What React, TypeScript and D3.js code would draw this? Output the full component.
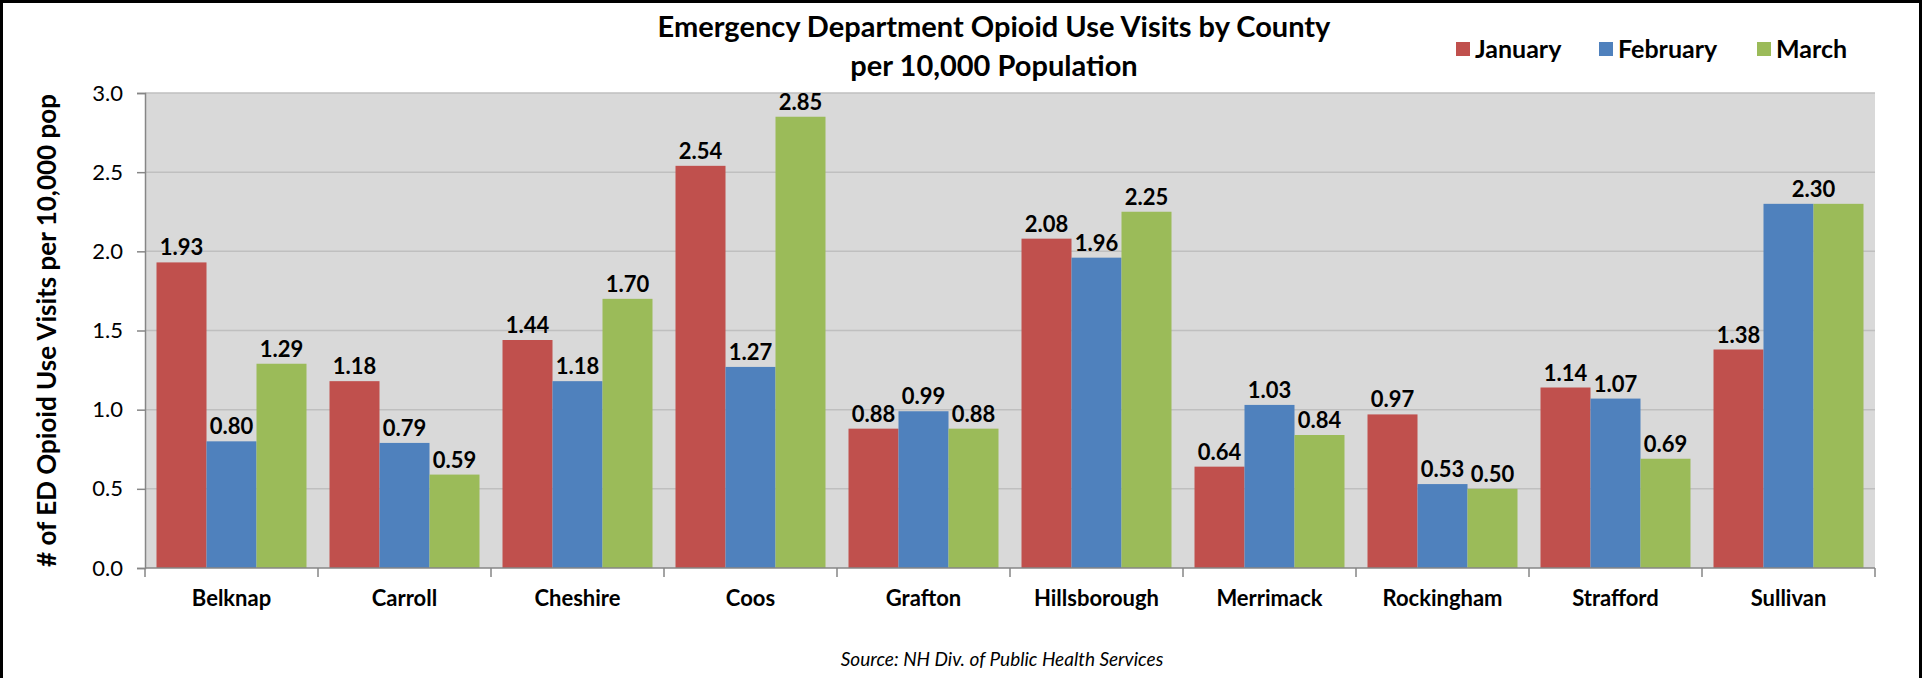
import React, { useRef, useEffect } from 'react';
import * as d3 from 'd3';

// Counties on the x axis
const counties = [
  'Belknap', 'Carroll', 'Cheshire', 'Coos', 'Grafton',
  'Hillsborough', 'Merrimack', 'Rockingham', 'Strafford', 'Sullivan'
];

const months = ['January', 'February', 'March'];

// ED opioid use visits per 10,000 population
const january = [1.93, 1.18, 1.44, 2.54, 0.88, 2.08, 0.64, 0.97, 1.14, 1.38];
const february = [0.80, 0.79, 1.18, 1.27, 0.99, 1.96, 1.03, 0.53, 1.07, 2.30];
const march = [1.29, 0.59, 1.70, 2.85, 0.88, 2.25, 0.84, 0.50, 0.69, 2.30];

const yTicks = [0, 0.5, 1.0, 1.5, 2.0, 2.5, 3.0];

const colors = ['#c0504d', '#4f81bd', '#9bbb59'];

const FONT = 'Lato, "Open Sans", sans-serif';

const App: React.FC = () => {
  const svgRef = useRef<SVGSVGElement>(null);
  const width = 1927;
  const height = 678;

  useEffect(() => {
    if (!svgRef.current) return;
    const svg = d3.select(svgRef.current);
    svg.selectAll('*').remove();

    const margin = { top: 93, right: 52, bottom: 110, left: 145 };
    const innerWidth = width - margin.left - margin.right;
    const innerHeight = height - margin.top - margin.bottom;

    const series = [january, february, march];

    // Frame
    svg.append('rect')
      .attr('x', 1.5)
      .attr('y', 1.5)
      .attr('width', width - 8)
      .attr('height', height + 20)
      .style('fill', 'white')
      .style('stroke', '#000')
      .style('stroke-width', 3);

    const x0 = d3.scaleBand()
      .domain(counties)
      .range([0, innerWidth])
      .paddingInner(0.133)
      .paddingOuter(0.0665);

    const x1 = d3.scaleBand()
      .domain(months)
      .range([0, x0.bandwidth()]);

    const y = d3.scaleLinear()
      .domain([0, 3])
      .range([innerHeight, 0]);

    const g = svg.append('g')
      .attr('transform', `translate(${margin.left},${margin.top})`);

    // Plot background
    g.append('rect')
      .attr('width', innerWidth)
      .attr('height', innerHeight)
      .style('fill', '#d9d9d9');

    // Grid lines
    g.append('g')
      .selectAll('line')
      .data(yTicks.filter(t => t > 0))
      .join('line')
      .attr('x1', 0)
      .attr('x2', innerWidth)
      .attr('y1', d => y(d))
      .attr('y2', d => y(d))
      .style('stroke', '#bfbfbf')
      .style('stroke-width', 1.5);

    // Bars
    const groups = g.append('g')
      .selectAll('g')
      .data(counties)
      .join('g')
      .attr('transform', d => `translate(${x0(d)},0)`);

    groups.selectAll('rect')
      .data(c => months.map((m, k) => ({ m, k, v: series[k][counties.indexOf(c)] })))
      .join('rect')
      .attr('x', d => x1(d.m)!)
      .attr('y', d => y(d.v))
      .attr('width', x1.bandwidth())
      .attr('height', d => innerHeight - y(d.v))
      .style('fill', d => colors[d.k]);

    // Data labels (adjacent equal values share one label centred over them)
    counties.forEach((c, i) => {
      const vals = series.map(s => s[i]);
      let k = 0;
      while (k < vals.length) {
        let j = k;
        while (j + 1 < vals.length && vals[j + 1] === vals[k]) j++;
        const cx = x0(c)! + (x1(months[k])! + x1(months[j])! + x1.bandwidth()) / 2;
        g.append('text')
          .attr('x', cx)
          .attr('y', y(vals[k]) - 7)
          .attr('text-anchor', 'middle')
          .style('font-family', FONT)
          .style('font-weight', 'bold')
          .style('font-size', '22px')
          .style('fill', '#000')
          .text(vals[k].toFixed(2));
        k = j + 1;
      }
    });

    // Y axis
    const yAxis = g.append('g')
      .call(d3.axisLeft(y).tickValues(yTicks).tickFormat(d3.format('.1f')).tickSize(8).tickPadding(14));
    yAxis.select('.domain').style('stroke', '#868686').style('stroke-width', 1.5);
    yAxis.selectAll('line').style('stroke', '#868686').style('stroke-width', 1.5);
    yAxis.selectAll('text')
      .style('font-family', FONT)
      .style('font-size', '22px')
      .style('fill', '#000');

    // X axis
    const xAxis = g.append('g')
      .attr('transform', `translate(0,${innerHeight})`);
    xAxis.append('line')
      .attr('x1', 0)
      .attr('x2', innerWidth)
      .style('stroke', '#868686')
      .style('stroke-width', 1.5);
    const bounds = counties.map(c => x0(c)! - x0.step() * x0.paddingInner() / 2).concat([innerWidth]);
    xAxis.selectAll('line.tick')
      .data(bounds)
      .join('line')
      .attr('class', 'tick')
      .attr('x1', d => d)
      .attr('x2', d => d)
      .attr('y1', 0)
      .attr('y2', 9)
      .style('stroke', '#868686')
      .style('stroke-width', 1.5);
    xAxis.selectAll('text')
      .data(counties)
      .join('text')
      .attr('x', d => x0(d)! + x0.bandwidth() / 2)
      .attr('y', 38)
      .attr('text-anchor', 'middle')
      .style('font-family', FONT)
      .style('font-weight', 'bold')
      .style('font-size', '22px')
      .style('fill', '#000')
      .text(d => d);

    // Y-axis label
    svg.append('text')
      .attr('transform', 'rotate(-90)')
      .attr('x', -(margin.top + innerHeight / 2))
      .attr('y', 56)
      .attr('text-anchor', 'middle')
      .style('font-family', FONT)
      .style('font-weight', 'bold')
      .style('font-size', '26px')
      .style('fill', '#000')
      .text('# of ED Opioid Use Visits per 10,000 pop');

    // Title
    const title = svg.append('text')
      .attr('text-anchor', 'middle')
      .style('font-family', FONT)
      .style('font-weight', 'bold')
      .style('font-size', '29px')
      .style('fill', '#000');
    title.append('tspan').attr('x', 994).attr('y', 37).text('Emergency Department Opioid Use Visits by County');
    title.append('tspan').attr('x', 994).attr('y', 76).text('per 10,000 Population');

    // Legend
    const legendX = [1456, 1599, 1757];
    const legend = svg.append('g');
    months.forEach((m, k) => {
      legend.append('rect')
        .attr('x', legendX[k])
        .attr('y', 42)
        .attr('width', 14)
        .attr('height', 14)
        .style('fill', colors[k]);
      legend.append('text')
        .attr('x', legendX[k] + 19)
        .attr('y', 58)
        .style('font-family', FONT)
        .style('font-weight', 'bold')
        .style('font-size', '25px')
        .style('fill', '#000')
        .text(m);
    });

    // Source
    svg.append('text')
      .attr('x', 1002)
      .attr('y', 666)
      .attr('text-anchor', 'middle')
      .style('font-family', FONT)
      .style('font-style', 'italic')
      .style('font-size', '19px')
      .style('fill', '#000')
      .text('Source: NH Div. of Public Health Services');
  }, []);

  return (
    <div style={{ position: 'absolute', left: 0, top: 0 }}>
      <svg ref={svgRef} width={width} height={height} style={{ display: 'block' }} />
    </div>
  );
};

export default App;
